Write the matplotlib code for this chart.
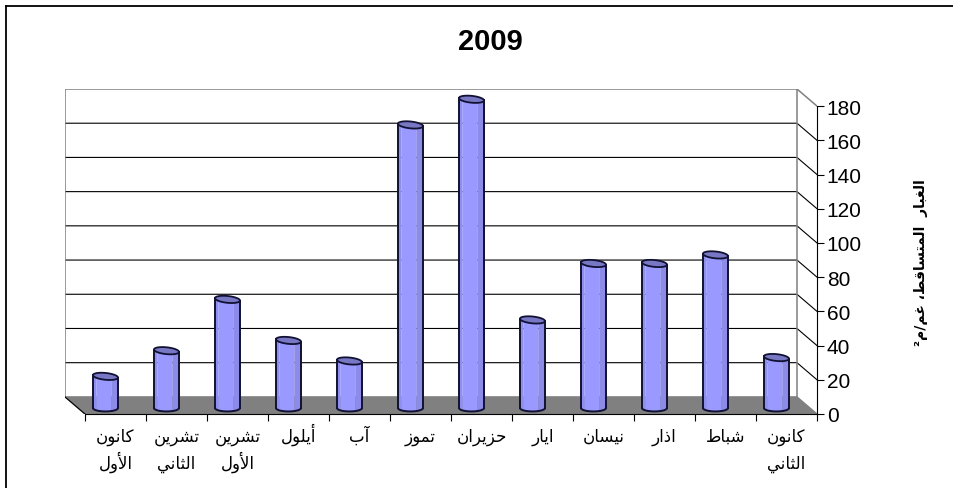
import matplotlib
matplotlib.use("Agg")
import matplotlib.pyplot as plt
import numpy as np

# ---- data ----
months = ["كانون الأول", "تشرين الثاني", "تشرين الأول", "أيلول", "آب", "تموز",
          "حزيران", "ايار", "نيسان", "اذار", "شباط", "كانون الثاني"]
values = [17, 32, 62, 38, 26, 164, 179, 50, 83, 83, 88, 28]
y_ticks = [0, 20, 40, 60, 80, 100, 120, 140, 160, 180]
title = "2009"
y_label = "الغبار  المتساقط، غم/م²"

# ---- small arabic shaper, matplotlib draws glyphs left to right without joining ----
# letter: isolated, final, initial, medial
forms = {
    "ا": "\ufe8d\ufe8e", "أ": "\ufe83\ufe84", "آ": "\ufe81\ufe82",
    "د": "\ufea9\ufeaa", "ذ": "\ufeab\ufeac", "ر": "\ufead\ufeae",
    "ز": "\ufeaf\ufeb0", "و": "\ufeed\ufeee",
    "ب": "\ufe8f\ufe90\ufe91\ufe92", "ت": "\ufe95\ufe96\ufe97\ufe98",
    "ث": "\ufe99\ufe9a\ufe9b\ufe9c", "ح": "\ufea1\ufea2\ufea3\ufea4",
    "س": "\ufeb1\ufeb2\ufeb3\ufeb4", "ش": "\ufeb5\ufeb6\ufeb7\ufeb8",
    "ط": "\ufec1\ufec2\ufec3\ufec4", "غ": "\ufecd\ufece\ufecf\ufed0",
    "ق": "\ufed5\ufed6\ufed7\ufed8", "ك": "\ufed9\ufeda\ufedb\ufedc",
    "ل": "\ufedd\ufede\ufedf\ufee0", "م": "\ufee1\ufee2\ufee3\ufee4",
    "ن": "\ufee5\ufee6\ufee7\ufee8", "ي": "\ufef1\ufef2\ufef3\ufef4",
}
lam_alef = {"ا": "\ufefb\ufefc", "أ": "\ufef7\ufef8", "آ": "\ufef5\ufef6"}


def shape(s):
    out = []
    i = 0
    prev_joins = False
    while i < len(s):
        c = s[i]
        if c == "ل" and i + 1 < len(s) and s[i + 1] in lam_alef:
            out.append(lam_alef[s[i + 1]][1 if prev_joins else 0])
            prev_joins = False
            i += 2
            continue
        if c not in forms:
            out.append(c)
            prev_joins = False
            i += 1
            continue
        f = forms[c]
        next_ok = i + 1 < len(s) and s[i + 1] in forms
        if len(f) == 2:
            out.append(f[1] if prev_joins else f[0])
            prev_joins = False
        else:
            if prev_joins and next_ok:
                out.append(f[3])
            elif prev_joins:
                out.append(f[1])
            elif next_ok:
                out.append(f[2])
            else:
                out.append(f[0])
            prev_joins = next_ok
        i += 1
    return "".join(reversed(out))


# ---- figure ----
W, H = 954, 489
fig = plt.figure(figsize=(W / 100, H / 100), dpi=100, facecolor="white")
plt.rcParams["font.family"] = ["Liberation Sans", "DejaVu Sans"]

# box around the chart, cut by the image on the right and bottom
fig.add_artist(plt.Line2D([6 / W, 6 / W], [0, 1 - 7 / H], color="black", lw=1.3))
fig.add_artist(plt.Line2D([6 / W, 1], [1 - 7 / H, 1 - 7 / H], color="black", lw=1.3))

left, right, top, bottom = 65, 817, 90, 415
ax = fig.add_axes([left / W, 1 - bottom / H, (right - left) / W, (bottom - top) / H])

n = len(months)
depth_x = 20 / 61
depth_y = 10
ax.set_xlim(-depth_x, n)
ax.set_ylim(0, 180 + depth_y)
ax.patch.set_visible(False)

# floor
ax.fill([-depth_x, n - depth_x, n, 0], [depth_y, depth_y, 0, 0], color="#808080", zorder=1)

# back wall and grid
for v in y_ticks[1:-1]:
    ax.plot([-depth_x, n - depth_x, n], [v + depth_y, v + depth_y, v], color="black", lw=0.8, zorder=1)
ax.plot([-depth_x, -depth_x, n - depth_x, n - depth_x], [depth_y, 180 + depth_y, 180 + depth_y, depth_y],
        color="#808080", lw=1.1, zorder=1)
ax.plot([n - depth_x, n], [180 + depth_y, 180], color="#808080", lw=1.1, zorder=1)
ax.plot([-depth_x, 0], [depth_y, 0], color="black", lw=0.8, zorder=2)

# cylinders
half_w = 12.5 / 61
ell_h = 2.0
top_base = depth_y / 2
foot = top_base - 1.5
t = np.linspace(0, np.pi, 40)
ex = np.cos(t)
ey = np.sin(t)
bands = [(-1.0, -0.78, "#8E8EEE"), (-0.78, 0.42, "#9999FF"), (0.42, 1.0, "#8C8CE8")]
for i, v in enumerate(values):
    c = i + 0.5 - depth_x / 2
    yt = top_base + v
    for a, b, col in bands:
        xs = np.linspace(a, b, 12)
        low = foot - ell_h * np.sqrt(1 - xs ** 2)
        ax.fill_between(c + half_w * xs, low, yt - 0.7 * xs, color=col, lw=0, zorder=3)
    # outline
    ax.plot(c + half_w * ex[::-1], foot - ell_h * ey[::-1], color="#111133", lw=1.4, zorder=4)
    ax.plot([c - half_w, c - half_w], [foot, yt + 0.7], color="#111133", lw=1.4, zorder=4)
    ax.plot([c + half_w, c + half_w], [foot, yt - 0.7], color="#111133", lw=1.4, zorder=4)
    # top ellipse, tilted a little
    px = c + half_w * np.r_[ex, ex[::-1]]
    py = yt + ell_h * np.r_[ey, -ey[::-1]] - 0.7 * np.r_[ex, ex[::-1]]
    ax.fill(px, py, facecolor="#7777C4", edgecolor="#111133", lw=1.3, zorder=5)

# axes
for s in ["top", "left"]:
    ax.spines[s].set_visible(False)
ax.spines["right"].set_bounds(0, 180)
ax.spines["bottom"].set_bounds(0, n)
ax.yaxis.tick_right()
ax.set_yticks(y_ticks)
ax.set_xticks(range(n + 1))
ax.set_xticklabels([])
ax.tick_params(axis="y", length=5, width=0.8, pad=2, labelsize=15)
ax.tick_params(axis="x", length=5, width=0.8)

# month labels, one text per line so the baselines stay level
for i, m in enumerate(months):
    for j, word in enumerate(m.split(" ")):
        ax.annotate(shape(word), (i + 0.5, 0), xytext=(0, -19.5 - 19 * j), textcoords="offset points",
                    ha="center", va="baseline", fontsize=12,
                    family=["Liberation Sans", "DejaVu Sans"])

fig.text(490 / W, 1 - 42 / H, title, ha="center", va="center", fontsize=21, fontweight="bold")
fig.text(921 / W, 1 - 263 / H, shape(y_label), rotation=90, ha="center", va="center",
         fontsize=10, fontweight="bold", family=["DejaVu Sans"])

fig.savefig("out.png", dpi=100)
